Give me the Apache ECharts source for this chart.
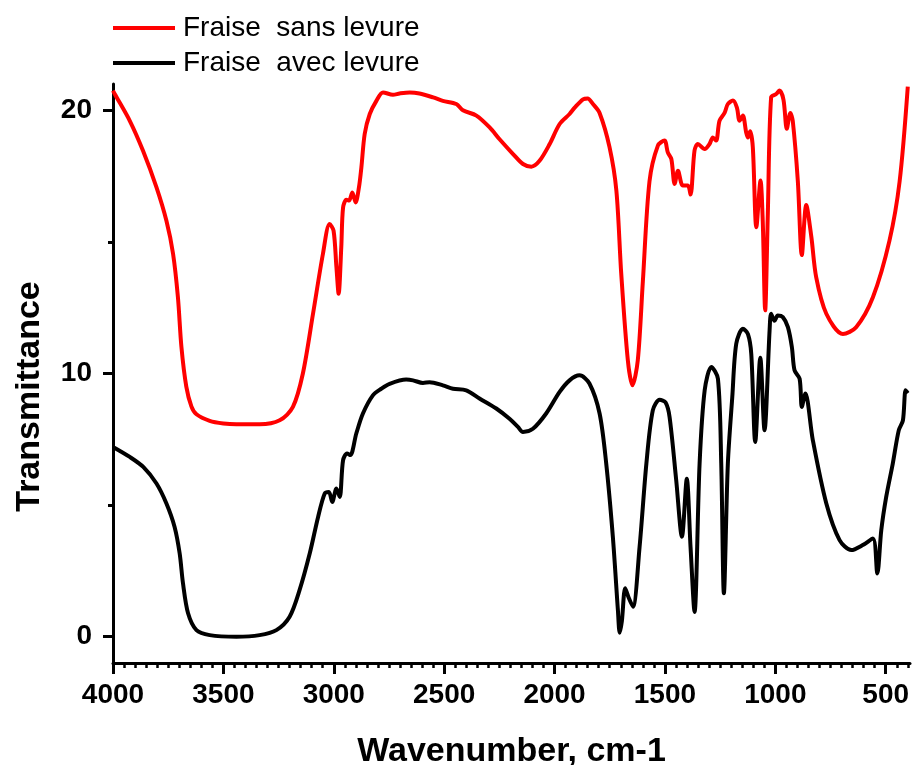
<!DOCTYPE html>
<html>
<head>
<meta charset="utf-8">
<script src="https://cdn.jsdelivr.net/npm/echarts@6/dist/echarts.min.js"></script>
<style>
html,body{margin:0;padding:0;background:#fff;}
#chart{width:913px;height:765px;}
</style>
</head>
<body>
<div id="chart"></div>
<script>
// ---- Data ----
var seriesNames = ['Fraise  sans levure', 'Fraise  avec levure'];

var redWavenumber = [4000,3992,3924,3864,3803,3758,3728,3706,3690,3668,3645,3622,3562,3500,3441,3336,3245,3185,3140,3094,3049,3019,3001,2988,2978,2966,2958,2943,2931,2916,2901,2886,2875,2860,2837,2807,2777,2732,2702,2656,2612,2550,2506,2445,2415,2354,2294,2249,2188,2143,2105,2068,2022,1977,1932,1909,1871,1850,1826,1796,1751,1720,1698,1668,1647,1623,1600,1570,1532,1502,1487,1471,1456,1441,1419,1396,1384,1366,1351,1320,1298,1283,1268,1253,1230,1215,1192,1174,1162,1147,1132,1124,1114,1102,1086,1067,1057,1046,1034,1019,996,981,963,948,932,921,898,880,860,837,815,769,694,634,558,483,437,400];
var redTransmittance = [20.75,20.62,19.6,18.46,17.07,15.8,14.55,12.9,11.0,9.5,8.75,8.45,8.2,8.1,8.07,8.07,8.22,8.73,10.0,12.27,14.55,15.68,15.43,14.04,13.03,14.8,16.3,16.6,16.57,16.88,16.5,17.07,17.83,19.1,19.86,20.36,20.68,20.59,20.64,20.68,20.64,20.49,20.36,20.24,20.0,19.8,19.35,18.9,18.34,17.96,17.86,18.08,18.72,19.48,19.86,20.1,20.42,20.45,20.24,19.9,18.6,16.95,13.8,10.5,9.55,10.5,13.5,17.3,18.66,18.85,18.4,18.15,17.2,17.7,17.14,17.14,16.8,18.47,18.72,18.53,18.72,18.97,18.85,19.6,19.9,20.24,20.37,20.1,19.6,19.8,19.16,18.97,19.2,18.6,15.56,17.33,15.8,12.4,16.07,20.5,20.62,20.75,20.4,19.3,19.9,19.6,17.3,14.5,16.4,15.2,13.66,12.27,11.5,11.76,12.9,15.05,17.3,20.9];

var blackWavenumber = [4000,3924,3863,3803,3758,3721,3698,3683,3660,3622,3562,3441,3336,3260,3200,3155,3109,3071,3041,3022,3007,2988,2973,2958,2940,2925,2898,2868,2823,2785,2747,2672,2641,2596,2566,2506,2460,2400,2340,2264,2204,2166,2143,2098,2038,1977,1932,1887,1842,1796,1766,1736,1713,1705,1695,1680,1665,1645,1615,1584,1555,1524,1497,1479,1449,1423,1401,1384,1366,1343,1320,1290,1260,1245,1233,1215,1195,1177,1147,1124,1109,1091,1068,1049,1026,1019,1004,989,966,943,925,913,890,880,864,830,769,709,656,604,558,538,520,498,468,441,422,410,400];
var blackTransmittance = [7.21,6.83,6.45,5.82,5.06,4.17,3.16,2.03,0.89,0.25,0.06,0.0,0.06,0.25,0.76,1.77,3.16,4.55,5.44,5.5,5.12,5.63,5.31,6.7,6.96,6.9,7.72,8.48,9.17,9.42,9.61,9.77,9.74,9.64,9.67,9.55,9.42,9.36,9.05,8.67,8.28,7.97,7.78,7.9,8.48,9.3,9.74,9.93,9.62,8.48,6.58,3.8,1.0,0.15,0.6,1.84,1.5,1.14,3.4,6.58,8.6,9.0,8.9,8.35,5.95,3.8,6.0,3.4,0.94,6.58,9.36,10.25,9.8,6.58,1.65,6.58,9.1,11.13,11.7,11.5,10.75,7.4,10.6,7.84,11.64,12.27,12.0,12.2,12.14,11.76,11.0,10.12,9.8,8.73,9.24,7.46,5.06,3.67,3.29,3.48,3.73,2.4,4.05,5.3,6.58,7.84,8.22,9.36,9.25];

var xMajorTicks = [4000,3500,3000,2500,2000,1500,1000,500];
var yMajorTicks = [0,10,20];
var yMinorTicks = [5,15];

// ---- Build ----
function zip(xs, ys){ var out=[]; for(var i=0;i<xs.length;i++){ out.push([xs[i], ys[i]]); } return out; }
var xMinorTicks = [];
for (var v = 400; v <= 4000; v += 50) { if (v % 500 !== 0) xMinorTicks.push(v); }

var FONT = '"Liberation Sans", Arial, Helvetica, sans-serif';
var X_MIN = 390, X_MAX = 4000, Y_MIN = -1, Y_MAX = 21;

var chart = echarts.init(document.getElementById('chart'), null, {renderer:'canvas'});
chart.setOption({
  animation: false,
  backgroundColor: '#ffffff',
  textStyle: { fontFamily: FONT },
  legend: {
    orient: 'vertical',
    left: 108, top: 9,
    itemWidth: 62, itemHeight: 4,
    itemGap: 7,
    icon: 'rect',
    textStyle: { fontSize: 28, color: '#000', fontFamily: FONT, padding: [0,0,0,3] },
    data: seriesNames
  },
  grid: { left: 113, right: 3, top: 84, bottom: 102, containLabel: false, outerBoundsMode: 'none' },
  xAxis: [{
    type: 'value', inverse: true, min: X_MIN, max: X_MAX,
    position: 'bottom',
    name: 'Wavenumber, cm-1', nameLocation: 'middle', nameGap: 72,
    nameTextStyle: { fontSize: 34, fontWeight: 'bold', color: '#000', fontFamily: FONT },
    axisLine: { show: true, onZero: false, lineStyle: { color: '#000', width: 3 } },
    axisTick: { show: true, inside: false, length: 11, lineStyle: { color: '#000', width: 3 }, customValues: xMajorTicks },
    axisLabel: { show: true, margin: 18, fontSize: 28, fontWeight: 'bold', color: '#000', fontFamily: FONT, customValues: xMajorTicks,
      formatter: function (v) { return String(v); } },
    splitLine: { show: false }
  },{
    type: 'value', inverse: true, min: X_MIN, max: X_MAX,
    position: 'bottom',
    axisLine: { show: false, onZero: false },
    axisTick: { show: true, inside: false, length: 5, lineStyle: { color: '#000', width: 2.5 }, customValues: xMinorTicks },
    axisLabel: { show: false },
    splitLine: { show: false }
  }],
  yAxis: [{
    type: 'value', min: Y_MIN, max: Y_MAX, position: 'left',
    name: 'Transmittance', nameLocation: 'middle', nameGap: 66,
    nameTextStyle: { fontSize: 34, fontWeight: 'bold', color: '#000', fontFamily: FONT, padding: [0,46,0,0] },
    axisLine: { show: true, onZero: false, lineStyle: { color: '#000', width: 3 } },
    axisTick: { show: true, inside: false, length: 10, lineStyle: { color: '#000', width: 3 }, customValues: yMajorTicks },
    axisLabel: { show: true, margin: 21, fontSize: 28, fontWeight: 'bold', color: '#000', fontFamily: FONT, customValues: yMajorTicks,
      formatter: function (v) { return String(v); } },
    splitLine: { show: false }
  },{
    type: 'value', min: Y_MIN, max: Y_MAX, position: 'left',
    axisLine: { show: false, onZero: false },
    axisTick: { show: true, inside: false, length: 5, lineStyle: { color: '#000', width: 3 }, customValues: yMinorTicks },
    axisLabel: { show: false },
    splitLine: { show: false }
  }],
  series: [{
    name: seriesNames[0], type: 'line', xAxisIndex: 0, yAxisIndex: 0,
    data: zip(redWavenumber, redTransmittance),
    showSymbol: false, smooth: 0.3,
    lineStyle: { color: '#ff0000', width: 4 }, itemStyle: { color: '#ff0000' }
  },{
    name: seriesNames[1], type: 'line', xAxisIndex: 0, yAxisIndex: 0,
    data: zip(blackWavenumber, blackTransmittance),
    showSymbol: false, smooth: 0.3,
    lineStyle: { color: '#000000', width: 4 }, itemStyle: { color: '#000000' }
  }]
});
</script>
</body>
</html>
